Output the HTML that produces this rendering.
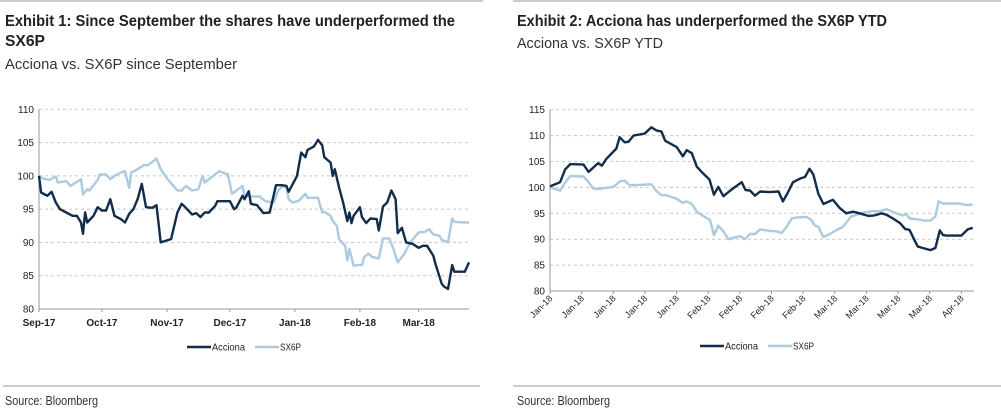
<!DOCTYPE html>
<html><head><meta charset="utf-8"><style>
html,body{margin:0;padding:0;background:#fff;}
svg{display:block;font-family:"Liberation Sans",sans-serif;}
</style></head><body>
<svg id="s" width="1001" height="418" viewBox="0 0 1001 418">
<line x1="0" y1="1" x2="483" y2="1" stroke="#999" stroke-width="1"/>
<line x1="513" y1="1" x2="1001" y2="1" stroke="#999" stroke-width="1"/>
<text x="5" y="26" font-size="16" font-weight="bold" fill="#222" textLength="450" lengthAdjust="spacingAndGlyphs">Exhibit 1: Since September the shares have underperformed the</text>
<text x="5" y="46" font-size="16" font-weight="bold" fill="#222" textLength="40" lengthAdjust="spacingAndGlyphs">SX6P</text>
<text x="5" y="69" font-size="15" fill="#333" textLength="232" lengthAdjust="spacingAndGlyphs">Acciona vs. SX6P since September</text>
<text x="517" y="26" font-size="16" font-weight="bold" fill="#222" textLength="370" lengthAdjust="spacingAndGlyphs">Exhibit 2: Acciona has underperformed the SX6P YTD</text>
<text x="517" y="48" font-size="15" fill="#333" textLength="146" lengthAdjust="spacingAndGlyphs">Acciona vs. SX6P YTD</text>
<line x1="3" y1="386" x2="480" y2="386" stroke="#999"/>
<line x1="513" y1="386" x2="1001" y2="386" stroke="#999"/>
<text x="5" y="405" font-size="13" fill="#333" textLength="93" lengthAdjust="spacingAndGlyphs">Source: Bloomberg</text>
<text x="517" y="405" font-size="13" fill="#333" textLength="93" lengthAdjust="spacingAndGlyphs">Source: Bloomberg</text>
<g id="c1"></g><g id="c2"></g>
</svg>
<script>
// Chart 1 data (x = days since 1 Sep 2017)
const c1AccDays=[0,1,4,6,8,10,13,16,18,20,21,22,23,26,28,30,32,34,36,39,41,43,45,47,49,51,54,56,58,61,63,66,68,70,73,75,77,79,81,84,85,88,91,93,94,97,98,100,101,104,107,110,113,116,118,119,121,123,125,127,128,131,133,135,136,139,140,141,143,145,147,148,149,150,153,154,156,158,161,162,164,166,168,170,171,173,175,178,181,183,185,188,189,192,193,195,197,198,203,205];
const c1AccVals=[100,97.5,97,97.6,96,95,94.5,94,94,93,91.3,94.5,93,94,95.3,94.8,94.8,96.5,94,93.5,93,94.3,95,96.5,98.8,95.3,95.2,95.6,90,90.3,90.5,94.5,95.8,95.2,94.2,94.4,93.8,94.5,94.5,95.5,96.2,96.2,96.2,95,95.2,97,96.5,97.7,95.8,95.6,94.4,94.5,98.6,98.6,98.5,97.6,98.8,100,103.5,102.8,103.9,104.4,105.4,104.6,102.8,102,100,101,98.3,96,93.2,94.5,92.9,94,95.3,93.8,92.9,93.6,93.5,91.8,95.4,96,97.8,96.5,91.4,92.2,90,89.8,89.2,89.5,89.5,88,86.8,83.8,83.4,83,86.6,85.6,85.6,87];
const c1SxDays=[0,2,5,8,9,13,15,20,21,23,24,28,29,32,34,36,39,41,43,44,47,50,52,56,58,61,63,66,68,70,73,76,78,79,83,86,89,90,92,95,97,98,100,105,108,112,114,116,118,119,121,124,127,128,133,135,136,139,140,142,143,146,147,148,150,152,154,155,157,159,162,164,167,169,171,174,177,181,184,186,188,191,192,195,197,198,203,205];
const c1SxVals=[100,99.6,99.4,99.9,99,99.2,98.5,99.5,97.2,98,97.8,99.4,100.2,100.2,99.5,100,100.5,100.7,98.2,100.5,101,101.6,101.6,102.6,101,99.6,98.9,97.8,97.8,98.5,97.8,98,100,99,100,100.7,100.3,100.3,97.3,98,98.5,97,96.9,96.9,96.2,96,97.8,98.4,98.3,96.5,96,96.3,97.3,96.7,96.7,94.5,94.6,94,93.2,92.5,90.5,89.5,87.3,89,86.5,86.6,86.6,87.8,88.3,87.8,87.6,90.6,90.6,89,87,88.2,90,91.5,91.6,92,91.2,91,90.4,90,93.6,93.1,93,93];
const c1TickDays=[0,30,61,91,122,153,181];
const c1TickLabels=["Sep-17","Oct-17","Nov-17","Dec-17","Jan-18","Feb-18","Mar-18"];
const c1YTicks=[80,85,90,95,100,105,110];
// Chart 2 data (x = trading days since 1 Jan 2018)
const c2AccT=[0,1.6,2.4,3.2,5.3,6.1,7.6,8.2,8.9,10.5,11,11.8,12.4,13.2,15,16,16.8,17.6,18.2,20,21,21.6,22.4,23.2,24.2,25.2,25.9,26.6,27.4,28.7,30.3,30.9,31.6,32.4,33.2,34.7,36.1,36.8,37.5,38.4,39.7,40.3,41,41.6,42.4,43.2,44.7,45.8,46.8,47.9,48.9,50.3,51.3,52.4,53.2,54.2,55.3,56.1,56.8,57.6,58.1,59.2,60.1,60.9,61.6,62.1,62.6,65,66,66.8];
const c2AccVals=[100.2,101,103.5,104.5,104.4,103,104.7,104.2,105.5,107.5,109.7,108.7,108.8,110,110.4,111.6,111,110.8,109,107.8,106,107.2,106.6,104,102.7,101.5,98.6,100.1,98.3,99.6,101,99.5,99.4,98.4,99.2,99.1,99.2,97.3,98.8,101,101.8,102,103.6,102.5,98.8,96.8,97.6,96,95,95.3,95,94.5,94.6,95,94.7,94,93.1,92,91.8,89.8,88.6,88.2,87.9,88.3,91.7,90.8,90.7,90.7,91.9,92.2];
const c2SxT=[0,1.6,2.4,3.2,5.3,6.1,6.8,7.6,10,11.1,11.8,12.6,16,16.8,17.6,18.4,20,21,21.6,22.4,23.2,24.2,25.3,25.9,26.6,27.4,28.2,30,30.8,31.6,32.4,33.2,34.7,35.8,36.6,37.4,38.2,39,40.5,41.3,41.8,42.4,43.2,44.2,45.3,46.3,47.6,48.7,49.7,50.8,52.1,53.2,54.7,55.8,56.3,56.8,58.2,59.2,60.1,60.9,61.4,62.1,64.7,65.8,66.8];
const c2SxVals=[100,99.4,101,102.2,102.1,101,99.8,99.7,100.1,101.2,101.3,100.4,100.6,99.3,98.5,98.5,97.8,97,97.3,96.8,95.3,94.5,93.7,90.8,92.6,91.5,90,90.6,90,91,91,91.9,91.6,91.5,91.2,92.4,94,94.2,94.3,93.7,92.7,92.4,90.4,91,91.8,92.4,94.4,94.8,95.2,95.4,95.4,95.8,95,94.6,94.9,94,93.8,93.6,93.6,94.4,97.3,96.9,96.9,96.6,96.7];
const c2TickT=[0,5,10,15,20,25,30,35,40,45,50,55,60,65];
const c2TickLabels=["Jan-18","Jan-18","Jan-18","Jan-18","Jan-18","Feb-18","Feb-18","Feb-18","Feb-18","Mar-18","Mar-18","Mar-18","Mar-18","Apr-18"];
const c2YTicks=[80,85,90,95,100,105,110,115];

const NS="http://www.w3.org/2000/svg";
function mk(p,tag,attrs){const e=document.createElementNS(NS,tag);for(const k in attrs)e.setAttribute(k,attrs[k]);p.appendChild(e);return e;}
const DARK="#0f2d4f",LIGHT="#a9cbe3";
function chart(g,cfg){
  const sx=v=>cfg.x0+(v-cfg.dmin)/(cfg.dmax-cfg.dmin)*(cfg.x1-cfg.x0);
  const sy=v=>cfg.yb+(v-cfg.ymin)/(cfg.ymax-cfg.ymin)*(cfg.yt-cfg.yb);
  cfg.yTicks.forEach(t=>{
    if(t>cfg.ymin){const l=mk(g,'line',{x1:cfg.x0,x2:cfg.x1,y1:sy(t),y2:sy(t),stroke:'#c8c8c8','stroke-dasharray':'3,3'});
    
    }
    const tx=mk(g,'text',{x:cfg.x0-5,y:sy(t)+3.5,'font-size':10,'text-anchor':'end',fill:'#222'});tx.textContent=t;
    
    
  });
  const ya=mk(g,'line',{x1:cfg.x0,x2:cfg.x0,y1:cfg.yt,y2:cfg.yb,stroke:'#999'});
  
  
  const xa=mk(g,'line',{x1:cfg.x0,x2:cfg.x1,y1:cfg.yb,y2:cfg.yb,stroke:'#999'});
  
  
  cfg.xTicks.forEach((t,i)=>{
    const x=sx(t);
    mk(g,'line',{x1:x,x2:x,y1:cfg.yb,y2:cfg.yb+3,stroke:'#999'});
    let tx;
    if(cfg.rot){tx=mk(g,'text',{x:x+3,y:cfg.yb+8,'font-size':9,'text-anchor':'end',fill:'#222',transform:`rotate(-45 ${x+3} ${cfg.yb+8})`});}
    else{tx=mk(g,'text',{x:x,y:cfg.yb+17,'font-size':10,'font-weight':'bold','text-anchor':'middle',fill:'#222'});}
    tx.textContent=cfg.xLabels[i];
    
    
  });
  cfg.series.forEach(s=>{
    const n=Math.min(s.x.length,s.y.length);let d='';
    for(let i=0;i<n;i++)d+=(i?'L':'M')+sx(s.x[i]).toFixed(1)+','+sy(s.y[i]).toFixed(1);
    const p=mk(g,'path',{d:d,fill:'none',stroke:s.c,'stroke-width':2.4,'stroke-linejoin':'round'});
    
    
  });
  let lx=cfg.legX;
  [['Acciona',DARK,33],['SX6P',LIGHT,21]].forEach(([nm,c,w])=>{
    const l=mk(g,'line',{x1:lx,x2:lx+24,y1:cfg.legY,y2:cfg.legY,stroke:c,'stroke-width':2.5});
    
    
    const t=mk(g,'text',{x:lx+25,y:cfg.legY+3.5,'font-size':10,fill:'#222',textLength:w,lengthAdjust:'spacingAndGlyphs'});t.textContent=nm;
    
    
    lx+=68;
  });
}
const g1=document.getElementById('c1');


chart(g1,{x0:39,x1:469,yt:109.3,yb:309,ymin:80,ymax:110,dmin:0,dmax:205,yTicks:c1YTicks,xTicks:c1TickDays,xLabels:c1TickLabels,rot:false,legX:187,legY:347,
  series:[{x:c1SxDays,y:c1SxVals,c:LIGHT,name:'sx6p-line-1'},{x:c1AccDays,y:c1AccVals,c:DARK,name:'acciona-line-1'}]});
const g2=document.getElementById('c2');


chart(g2,{x0:550,x1:974,yt:109.7,yb:291,ymin:80,ymax:115,dmin:0,dmax:67,yTicks:c2YTicks,xTicks:c2TickT,xLabels:c2TickLabels,rot:true,legX:700,legY:346,
  series:[{x:c2SxT,y:c2SxVals,c:LIGHT,name:'sx6p-line-2'},{x:c2AccT,y:c2AccVals,c:DARK,name:'acciona-line-2'}]});
</script>
</body></html>
